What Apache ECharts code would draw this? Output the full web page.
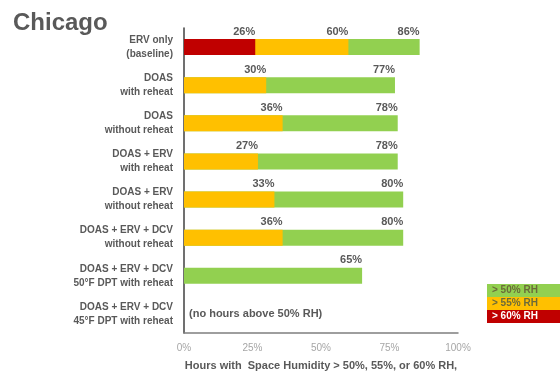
<!DOCTYPE html>
<html>
<head>
<meta charset="utf-8">
<script src="https://cdn.jsdelivr.net/npm/echarts@6/dist/echarts.min.js"></script>
<style>
  html, body { margin: 0; padding: 0; background: #fff; }
  #chart { width: 560px; height: 371px; }
</style>
</head>
<body>
<div id="chart"></div>
<script>
// categories, top to bottom
const categories = [
  'ERV only\n(baseline)',
  'DOAS\nwith reheat',
  'DOAS\nwithout reheat',
  'DOAS + ERV\nwith reheat',
  'DOAS + ERV\nwithout reheat',
  'DOAS + ERV + DCV\nwithout reheat',
  'DOAS + ERV + DCV\n50°F DPT with reheat',
  'DOAS + ERV + DCV\n45°F DPT with reheat'
]
// % of hours above each RH threshold ('-' = none)
const above50 = [86, 77, 78, 78, 80, 80, 65, 0]
const above55 = [60, 30, 36, 27, 33, 36, '-', '-']
const above60 = [26, '-', '-', '-', '-', '-', '-', '-']
const xTicks = [0, 25, 50, 75, 100]
const noHoursNote = '(no hours above 50% RH)'

const seriesNames = ['> 50% RH', '> 55% RH', '> 60% RH']
const colors = ['#92d050', '#ffc000', '#c00000']
const font = 'Liberation Sans, Arial, sans-serif'

const valueLabel = {
  show: true,
  position: ['100%', 0],
  align: 'right',
  verticalAlign: 'bottom',
  offset: [0, -2],
  color: '#595959',
  fontWeight: 'bold',
  fontSize: 11,
  fontFamily: font,
  formatter: p => p.value + '%'
}

const greenData = above50.map((v, i) => {
  if (i === above50.length - 1) {
    return {
      value: v,
      label: {
        show: true,
        position: 'right',
        align: 'left',
        verticalAlign: 'middle',
        offset: [0, 0],
        formatter: noHoursNote
      }
    }
  }
  return v
})

const chart = echarts.init(document.getElementById('chart'))
chart.setOption({
  animation: false,
  title: {
    text: 'Chicago',
    left: 8,
    top: 6,
    textStyle: { color: '#595959', fontSize: 24, fontWeight: 'bold', fontFamily: font }
  },
  legend: {
    orient: 'vertical',
    right: 0,
    top: 284,
    padding: 0,
    itemWidth: 0,
    itemHeight: 0,
    itemGap: 0,
    selectedMode: false,
    data: seriesNames.map((n, i) => ({
      name: n,
      icon: 'rect',
      textStyle: {
        backgroundColor: colors[i],
        color: i === 2 ? '#fff' : '#6b6b3a',
        width: 68,
        height: 13,
        lineHeight: 13,
        padding: [0, 0, 0, 5],
        fontSize: 10,
        fontWeight: 'bold',
        fontFamily: font
      }
    }))
  },
  grid: { left: 184, right: 102, top: 28, bottom: 38, outerBoundsMode: 'none' },
  xAxis: {
    type: 'value',
    min: 0,
    max: 100,
    interval: 25,
    name: 'Hours with  Space Humidity > 50%, 55%, or 60% RH,',
    nameLocation: 'middle',
    nameGap: 27,
    nameTextStyle: { color: '#595959', fontWeight: 'bold', fontSize: 11, fontFamily: font },
    axisLine: { show: true, lineStyle: { color: '#7f7f7f', width: 1.5 } },
    axisTick: { show: false },
    splitLine: { show: false },
    axisLabel: {
      color: '#a6a6a6',
      fontSize: 10,
      fontFamily: font,
      margin: 10,
      formatter: v => (xTicks.includes(v) ? v + '%' : '')
    }
  },
  yAxis: {
    type: 'category',
    inverse: true,
    data: categories,
    axisLine: { show: true, lineStyle: { color: '#404040', width: 1.5 } },
    axisTick: { show: false },
    axisLabel: {
      color: '#595959',
      fontSize: 10,
      fontWeight: 'bold',
      fontFamily: font,
      lineHeight: 14,
      margin: 11,
      align: 'right'
    }
  },
  series: [
    { name: seriesNames[0], type: 'bar', data: greenData, barWidth: 16, barGap: '-100%',
      itemStyle: { color: colors[0] }, label: valueLabel },
    { name: seriesNames[1], type: 'bar', data: above55, barWidth: 16, barGap: '-100%',
      itemStyle: { color: colors[1] }, label: valueLabel },
    { name: seriesNames[2], type: 'bar', data: above60, barWidth: 16, barGap: '-100%',
      itemStyle: { color: colors[2] }, label: valueLabel }
  ]
})
</script>
</body>
</html>
